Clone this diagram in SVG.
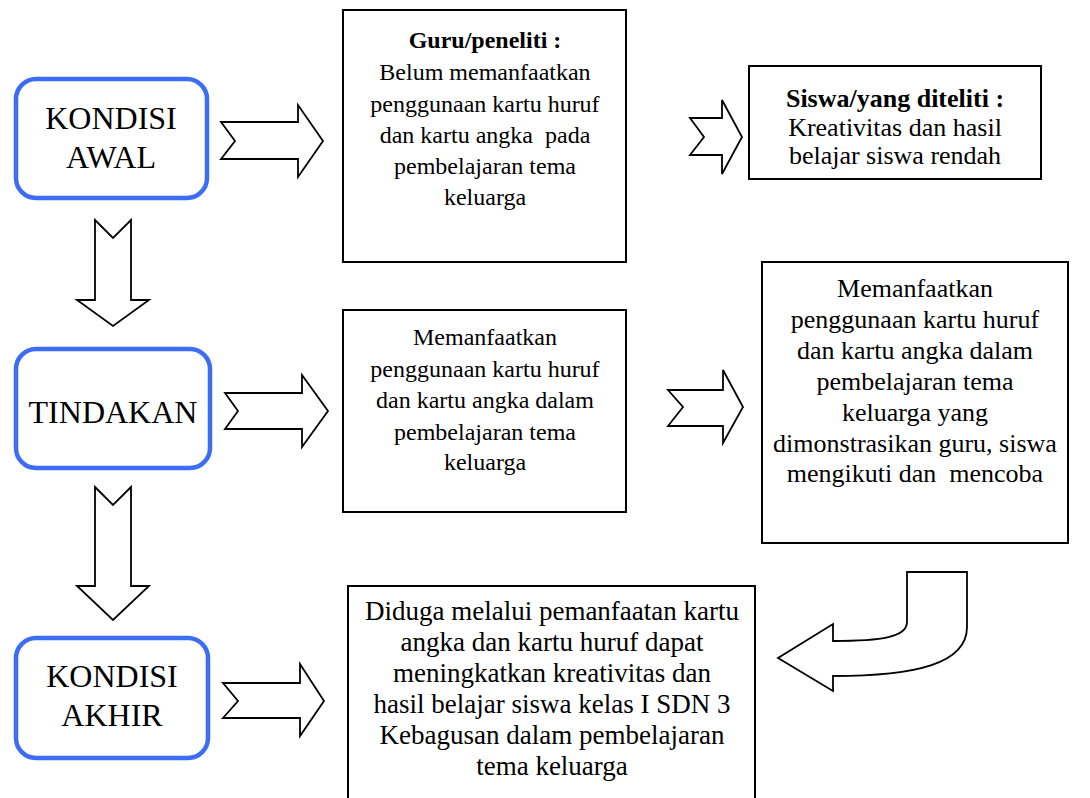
<svg xmlns="http://www.w3.org/2000/svg" width="1090" height="798" viewBox="0 0 1090 798">
<style>
  .state { fill: #fff; stroke: #3d6df4; stroke-width: 4.5; }
  .box { fill: #fff; stroke: #000; stroke-width: 2; }
  .arrow { fill: #fff; stroke: #000; stroke-width: 1.8; stroke-linejoin: miter; }
  .big { font-family: "Liberation Serif", "Times New Roman", serif; font-size: 32px; fill: #000; text-anchor: middle; }
  .t { font-family: "Liberation Serif", "Times New Roman", serif; font-size: 26px; fill: #000; text-anchor: middle; }
  .s24 { font-size: 24px; }
  .s27 { font-size: 27px; }
  .b { font-weight: bold; }
</style>
<rect width="1090" height="798" fill="#fff"/>

<g id="connectors">
  <polygon class="arrow" points="95,220 113,238 131,220 131,300 149,300 113,326 77,300 95,300"/>
  <polygon class="arrow" points="95,487 113,505 131,487 131,586 149,586 113,620 77,586 95,586"/>
  <polygon class="arrow" points="221,122 298,122 298,105 323,141 298,177 298,159 221,159 235,141"/>
  <polygon class="arrow" points="225,393 302,393 302,375 328,411 302,447 302,429 225,429 238,411"/>
  <polygon class="arrow" points="223,683 300,683 300,664 324,701 300,736 300,718 223,718 238,701"/>
  <polygon class="arrow" points="690,118 722,118 722,100 742,137 722,174 722,155 690,155 704,137"/>
  <polygon class="arrow" points="668,390 723,390 723,370 743,407 723,443 723,426 668,426 683,407"/>
  <path class="arrow" d="M907,572 L967,572 L967,627 C967,664 915,676 833,676 L833,691 L778,658 L833,624 L833,641 C882,641 907,637 907,622 Z"/>
</g>

<g id="kondisi-awal">
  <rect class="state" x="16" y="79" width="191" height="119" rx="20"/>
  <text class="big" x="111" y="129">KONDISI</text>
  <text class="big" x="111" y="168">AWAL</text>
</g>

<g id="tindakan">
  <rect class="state" x="16" y="349" width="194" height="119" rx="20"/>
  <text class="big" x="113" y="423">TINDAKAN</text>
</g>

<g id="kondisi-akhir">
  <rect class="state" x="16" y="638" width="192" height="120" rx="20"/>
  <text class="big" x="112" y="687">KONDISI</text>
  <text class="big" x="112" y="726">AKHIR</text>
</g>

<g id="guru">
  <rect class="box" x="343" y="10" width="283" height="252"/>
  <text class="t s24 b" x="485" y="48">Guru/peneliti :</text>
  <text class="t s24" x="485" y="80">Belum memanfaatkan</text>
  <text class="t s24" x="485" y="112">penggunaan kartu huruf</text>
  <text class="t s24" x="485" y="143" xml:space="preserve">dan kartu angka  pada</text>
  <text class="t s24" x="485" y="174">pembelajaran tema</text>
  <text class="t s24" x="485" y="205">keluarga</text>
</g>

<g id="siswa">
  <rect class="box" x="749" y="66" width="292" height="113"/>
  <text class="t b" x="895" y="107">Siswa/yang diteliti :</text>
  <text class="t" x="895" y="136">Kreativitas dan hasil</text>
  <text class="t" x="895" y="164">belajar siswa rendah</text>
</g>

<g id="tindakan-guru">
  <rect class="box" x="343" y="310" width="283" height="202"/>
  <text class="t s24" x="485" y="345">Memanfaatkan</text>
  <text class="t s24" x="485" y="377">penggunaan kartu huruf</text>
  <text class="t s24" x="485" y="408">dan kartu angka dalam</text>
  <text class="t s24" x="485" y="440">pembelajaran tema</text>
  <text class="t s24" x="485" y="470">keluarga</text>
</g>

<g id="tindakan-siswa">
  <rect class="box" x="762" y="262" width="306" height="281"/>
  <text class="t" x="915" y="297">Memanfaatkan</text>
  <text class="t" x="915" y="328">penggunaan kartu huruf</text>
  <text class="t" x="915" y="359">dan kartu angka dalam</text>
  <text class="t" x="915" y="390">pembelajaran tema</text>
  <text class="t" x="915" y="421">keluarga yang</text>
  <text class="t" x="915" y="452">dimonstrasikan guru, siswa</text>
  <text class="t" x="915" y="482" xml:space="preserve">mengikuti dan  mencoba</text>
</g>

<g id="hipotesis">
  <rect class="box" x="348" y="586" width="407" height="220"/>
  <text class="t s27" x="552" y="620">Diduga melalui pemanfaatan kartu</text>
  <text class="t s27" x="552" y="651">angka dan kartu huruf dapat</text>
  <text class="t s27" x="552" y="682">meningkatkan kreativitas dan</text>
  <text class="t s27" x="552" y="713">hasil belajar siswa kelas I SDN 3</text>
  <text class="t s27" x="552" y="744">Kebagusan dalam pembelajaran</text>
  <text class="t s27" x="552" y="775">tema keluarga</text>
</g>
</svg>
